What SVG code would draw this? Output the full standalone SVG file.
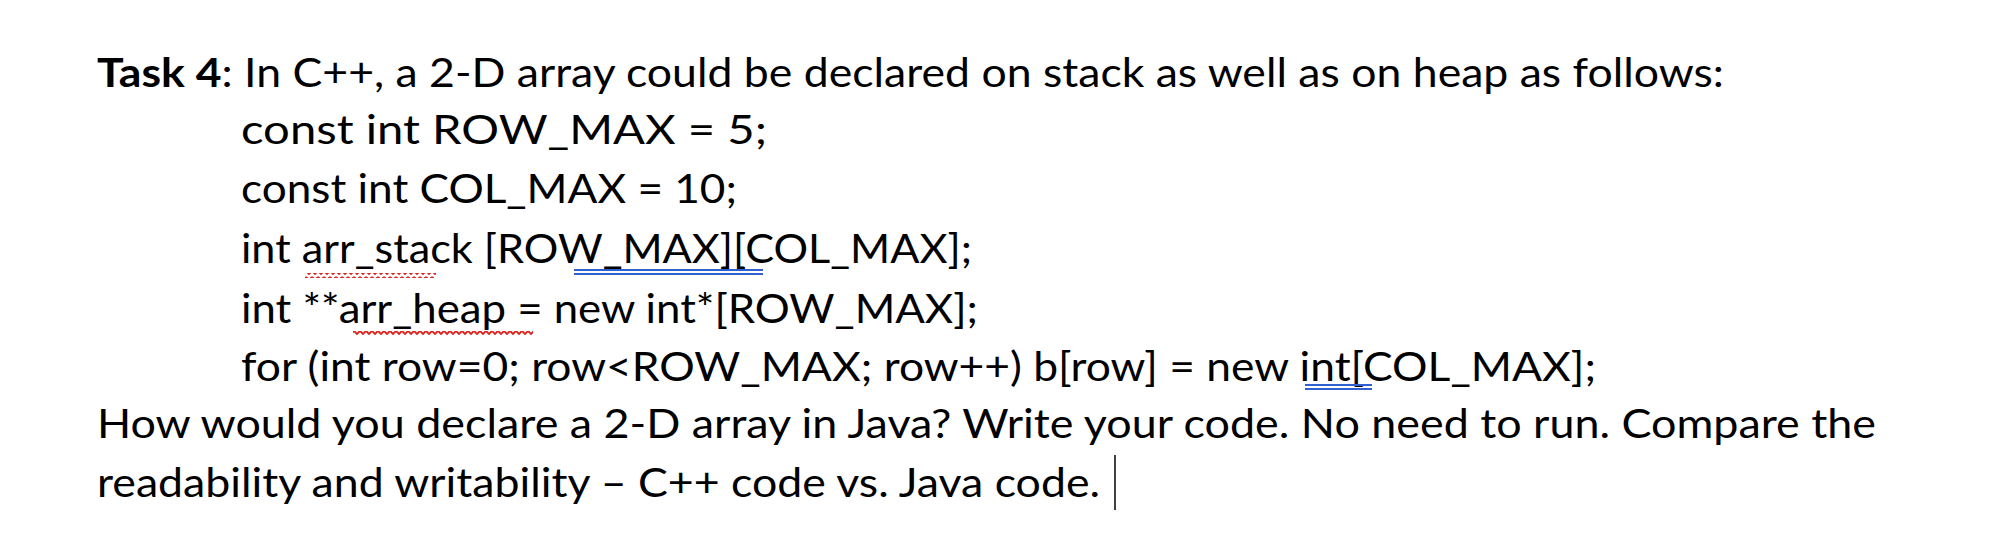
<svg xmlns="http://www.w3.org/2000/svg" width="2010" height="554" viewBox="0 0 2010 554">
<defs>
<style>
text{font-family:Lato,"Open Sans","Liberation Sans",sans-serif;font-size:41px;fill:#000}
.w{fill:none;stroke:#e0201a;stroke-width:1.8}
.b{stroke:#3060d0;stroke-width:1.8}
</style>
<pattern id="wv" x="0" y="0" width="6" height="6" patternUnits="userSpaceOnUse"><path d="M0,1 L3,4 L6,1" class="w"/></pattern>
</defs>
<rect width="2010" height="554" fill="#fff"/>
<g id="text">
<text x="97" y="87" textLength="1627" lengthAdjust="spacingAndGlyphs"><tspan font-weight="bold">Task 4</tspan>: In C++, a 2-D array could be declared on stack as well as on heap as follows:</text>
<text x="241" y="144" textLength="526" lengthAdjust="spacingAndGlyphs">const int ROW_MAX = 5;</text>
<text x="241" y="203" textLength="496" lengthAdjust="spacingAndGlyphs">const int COL_MAX = 10;</text>
<text x="241" y="263" textLength="731" lengthAdjust="spacingAndGlyphs">int arr_stack [ROW_MAX][COL_MAX];</text>
<text x="241" y="323" textLength="737" lengthAdjust="spacingAndGlyphs">int **arr_heap = new int*[ROW_MAX];</text>
<text x="241" y="381" textLength="1355" lengthAdjust="spacingAndGlyphs">for (int row=0; row&lt;ROW_MAX; row++) b[row] = new int[COL_MAX];</text>
<text x="97" y="438" textLength="1779" lengthAdjust="spacingAndGlyphs">How would you declare a 2-D array in Java? Write your code. No need to run. Compare the</text>
<text x="97" y="497" textLength="1003" lengthAdjust="spacingAndGlyphs">readability and writability – C++ code vs. Java code.</text>
</g>
<g id="marks">
<rect x="305" y="273" width="131" height="5" fill="url(#wv)"/>
<rect x="353" y="331" width="180" height="5" fill="url(#wv)"/>
<path class="b" d="M574,270H763M574,274H763M1305,385H1372M1305,389H1372"/>
<path d="M1115,455V510" stroke="#000" stroke-width="1.5"/>
</g>
</svg>
